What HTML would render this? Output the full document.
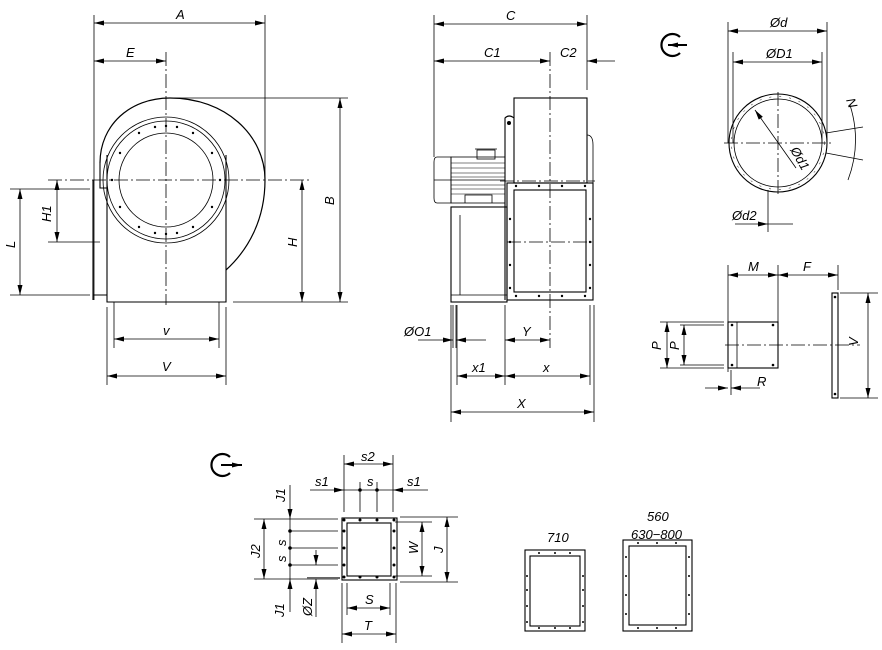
<!DOCTYPE html>
<html><head><meta charset="utf-8"><style>html,body{margin:0;background:#fff}svg{display:block}text{font-family:"Liberation Sans",sans-serif;font-style:italic;font-size:13px;fill:#000}</style></head><body>
<svg width="882" height="650" viewBox="0 0 882 650" xmlns="http://www.w3.org/2000/svg">
<defs><marker id="a" viewBox="0 0 12 6" refX="12" refY="3" markerWidth="12" markerHeight="5" orient="auto-start-reverse" markerUnits="userSpaceOnUse"><path d="M0,0L12,3L0,6z"/></marker></defs>
<g stroke="#000" stroke-width="0.8" fill="none">
<!-- LEFT VIEW -->
<line x1="94" y1="15" x2="94" y2="300"/><line x1="265" y1="15" x2="265" y2="180"/>
<line x1="94" y1="23" x2="265" y2="23" marker-start="url(#a)" marker-end="url(#a)"/>
<line x1="94" y1="61" x2="166" y2="61" marker-start="url(#a)" marker-end="url(#a)"/>
<line x1="166" y1="52" x2="166" y2="305" stroke-dasharray="14,3,2,3"/>
<line x1="48" y1="180" x2="312" y2="180" stroke-dasharray="14,3,2,3"/>
<path d="M100,163 C100,125 130,98 170,98 C225,98 265,135 265,180 C265,220 248,250 226,270" stroke-width="1.2"/>
<line x1="166" y1="98" x2="348" y2="98"/>
<path d="M107,155 L107,302 L226,302 L226,155" stroke-width="1.1"/>
<circle cx="166" cy="180" r="63"/>
<circle cx="166" cy="180" r="59"/><circle cx="166" cy="180" r="47"/>
<path d="M100,163 L100,188 L107,188 M93,180 L93,300 M93,295 L107,295" stroke-width="1.1"/>
<line x1="57" y1="180" x2="57" y2="242" marker-start="url(#a)" marker-end="url(#a)"/>
<line x1="48" y1="242" x2="100" y2="242"/>
<line x1="10" y1="189" x2="90" y2="189"/><line x1="10" y1="295" x2="90" y2="295"/>
<line x1="20" y1="189" x2="20" y2="295" marker-start="url(#a)" marker-end="url(#a)"/>
<line x1="302" y1="180" x2="302" y2="302" marker-start="url(#a)" marker-end="url(#a)"/>
<line x1="233" y1="302" x2="348" y2="302"/>
<line x1="340" y1="98" x2="340" y2="302" marker-start="url(#a)" marker-end="url(#a)"/>
<line x1="114" y1="302" x2="114" y2="348"/><line x1="219" y1="302" x2="219" y2="348"/>
<line x1="114" y1="339" x2="219" y2="339" marker-start="url(#a)" marker-end="url(#a)"/>
<line x1="107" y1="307" x2="107" y2="385"/><line x1="226" y1="307" x2="226" y2="385"/>
<line x1="107" y1="376" x2="226" y2="376" marker-start="url(#a)" marker-end="url(#a)"/>
<!-- MIDDLE VIEW -->
<line x1="434" y1="15" x2="434" y2="157"/><line x1="587" y1="15" x2="587" y2="90"/>
<line x1="434" y1="24" x2="587" y2="24" marker-start="url(#a)" marker-end="url(#a)"/>
<line x1="434" y1="61" x2="550" y2="61" marker-start="url(#a)" marker-end="url(#a)"/>
<line x1="615" y1="61" x2="587" y2="61" marker-end="url(#a)"/>
<line x1="550" y1="52" x2="550" y2="348" stroke-dasharray="14,3,2,3"/>
<rect x="514" y="98" width="73" height="85" stroke-width="1.1"/>
<path d="M505,300 L505,118 Q509,114 514,118" stroke-width="1.1"/>
<path d="M587,135 Q593,135 593,145 L593,183"/>
<rect x="507" y="183" width="86" height="117" stroke-width="1.1"/>
<rect x="514" y="190" width="72" height="102" stroke-width="1.1"/>
<line x1="507" y1="242" x2="593" y2="242" stroke-dasharray="14,3,2,3"/>
<line x1="500" y1="181" x2="595" y2="181" stroke-dasharray="14,3,2,3"/>
<path d="M451,157 L437,157 Q434,157 434,162 L434,198 Q434,203 437,203 L451,203 Z"/>
<rect x="451" y="157" width="54" height="46"/>
<g stroke-width="0.6"><line x1="451" y1="163" x2="505" y2="163"/><line x1="451" y1="168" x2="505" y2="168"/><line x1="451" y1="173" x2="505" y2="173"/><line x1="451" y1="177" x2="505" y2="177"/><line x1="451" y1="185" x2="505" y2="185"/><line x1="451" y1="189" x2="505" y2="189"/><line x1="451" y1="194" x2="505" y2="194"/></g>
<line x1="434" y1="180" x2="505" y2="180"/>
<rect x="477" y="150" width="18" height="9"/><line x1="475" y1="149" x2="497" y2="149"/>
<path d="M465,203 L465,195 L492,195 L492,203"/>
<rect x="451" y="207" width="56" height="95" stroke-width="1.1"/>
<line x1="460" y1="215" x2="460" y2="295"/><line x1="451" y1="295" x2="507" y2="295"/>
<line x1="453" y1="305" x2="453" y2="348"/><line x1="456" y1="305" x2="456" y2="348"/>
<line x1="418" y1="340" x2="453" y2="340" marker-end="url(#a)"/><line x1="486" y1="340" x2="456" y2="340" marker-end="url(#a)"/>
<line x1="505" y1="305" x2="505" y2="385"/>
<line x1="505" y1="340" x2="550" y2="340" marker-start="url(#a)" marker-end="url(#a)"/>
<line x1="457" y1="305" x2="457" y2="385"/><line x1="590" y1="305" x2="590" y2="385"/>
<line x1="457" y1="376" x2="505" y2="376" marker-start="url(#a)" marker-end="url(#a)"/>
<line x1="505" y1="376" x2="590" y2="376" marker-start="url(#a)" marker-end="url(#a)"/>
<line x1="451" y1="305" x2="451" y2="422"/><line x1="594" y1="305" x2="594" y2="422"/>
<line x1="451" y1="412" x2="594" y2="412" marker-start="url(#a)" marker-end="url(#a)"/>
<!-- RIGHT TOP -->
<line x1="728" y1="22" x2="728" y2="143"/><line x1="827" y1="22" x2="827" y2="143"/>
<line x1="728" y1="31" x2="827" y2="31" marker-start="url(#a)" marker-end="url(#a)"/>
<line x1="733" y1="52" x2="733" y2="143"/><line x1="822" y1="52" x2="822" y2="143"/>
<line x1="733" y1="62" x2="822" y2="62" marker-start="url(#a)" marker-end="url(#a)"/>
<circle cx="778" cy="143" r="49" stroke-width="1.1"/><circle cx="778" cy="143" r="44"/>
<circle cx="778" cy="143" r="46.5" stroke-width="0.5" stroke-dasharray="2,8"/>
<line x1="724" y1="143" x2="832" y2="143" stroke-dasharray="14,3,2,3"/>
<line x1="778" y1="92" x2="778" y2="194" stroke-dasharray="14,3,2,3"/>
<line x1="755" y1="110" x2="796" y2="168" marker-start="url(#a)"/>
<line x1="768" y1="190" x2="768" y2="232"/>
<line x1="735" y1="224" x2="768" y2="224" marker-end="url(#a)"/><line x1="793" y1="224" x2="768" y2="224"/>
<line x1="826" y1="133" x2="863" y2="127"/><line x1="826" y1="153" x2="863" y2="160"/>
<path d="M850,105 Q862,143 848,180"/>
<!-- symbols -->
<path d="M680,37 A11,11 0 1 0 680,53" stroke-width="2.2"/><line x1="687" y1="45" x2="668" y2="45" stroke-width="2" marker-end="url(#a)"/>
<path d="M230,457 A11,11 0 1 0 230,473" stroke-width="2.2"/><line x1="221" y1="465" x2="242" y2="465" stroke-width="2" marker-end="url(#a)"/>
<!-- RIGHT BOTTOM -->
<line x1="728" y1="265" x2="728" y2="372"/><line x1="778" y1="265" x2="778" y2="322"/><line x1="838" y1="265" x2="838" y2="290"/>
<line x1="728" y1="275" x2="778" y2="275" marker-start="url(#a)" marker-end="url(#a)"/>
<line x1="778" y1="275" x2="838" y2="275" marker-start="url(#a)" marker-end="url(#a)"/>
<rect x="728" y="322" width="50" height="46" stroke-width="1.1"/><line x1="737" y1="322" x2="737" y2="368"/>
<line x1="725" y1="345" x2="860" y2="345" stroke-dasharray="14,3,2,3"/>
<rect x="832" y="293" width="6" height="105" stroke-width="1.1"/>
<line x1="840" y1="293" x2="878" y2="293"/><line x1="840" y1="398" x2="878" y2="398"/>
<line x1="868" y1="293" x2="868" y2="398" marker-start="url(#a)" marker-end="url(#a)"/>
<line x1="660" y1="322" x2="724" y2="322"/><line x1="660" y1="368" x2="724" y2="368"/>
<line x1="680" y1="325" x2="724" y2="325"/><line x1="680" y1="365" x2="724" y2="365"/>
<line x1="667" y1="322" x2="667" y2="368" marker-start="url(#a)" marker-end="url(#a)"/>
<line x1="684" y1="325" x2="684" y2="365" marker-start="url(#a)" marker-end="url(#a)"/>
<line x1="731" y1="370" x2="731" y2="395"/>
<line x1="705" y1="388" x2="728" y2="388" marker-end="url(#a)"/><line x1="760" y1="388" x2="731" y2="388" marker-end="url(#a)"/>
<!-- BOTTOM FLANGE -->
<rect x="342" y="518" width="55" height="62" stroke-width="1.1"/><rect x="347" y="523" width="44" height="53" stroke-width="1.1"/>
<line x1="344" y1="455" x2="344" y2="512"/><line x1="393" y1="455" x2="393" y2="512"/>
<line x1="344" y1="464" x2="393" y2="464" marker-start="url(#a)" marker-end="url(#a)"/>
<line x1="310" y1="490" x2="344" y2="490" marker-end="url(#a)"/><line x1="428" y1="490" x2="393" y2="490" marker-end="url(#a)"/>
<line x1="344" y1="490" x2="393" y2="490"/>
<line x1="360" y1="482" x2="360" y2="512"/><line x1="377" y1="482" x2="377" y2="512"/>
<line x1="254" y1="519" x2="338" y2="519"/><line x1="254" y1="579" x2="338" y2="579"/>
<line x1="290" y1="531" x2="338" y2="531"/><line x1="290" y1="548" x2="338" y2="548"/><line x1="290" y1="565" x2="338" y2="565"/>
<line x1="264" y1="519" x2="264" y2="579" marker-start="url(#a)" marker-end="url(#a)"/>
<line x1="290" y1="485" x2="290" y2="519" marker-end="url(#a)"/><line x1="290" y1="612" x2="290" y2="579" marker-end="url(#a)"/>
<line x1="290" y1="519" x2="290" y2="579"/>
<line x1="316" y1="550" x2="316" y2="565" marker-end="url(#a)"/><line x1="316" y1="617" x2="316" y2="579" marker-end="url(#a)"/>
<line x1="307" y1="578" x2="340" y2="578" stroke-width="2" stroke="#666"/>
<line x1="400" y1="517" x2="458" y2="517"/><line x1="400" y1="582" x2="458" y2="582"/>
<line x1="395" y1="522" x2="432" y2="522"/><line x1="395" y1="576" x2="432" y2="576"/>
<line x1="447" y1="517" x2="447" y2="582" marker-start="url(#a)" marker-end="url(#a)"/>
<line x1="422" y1="522" x2="422" y2="576" marker-start="url(#a)" marker-end="url(#a)"/>
<line x1="347" y1="583" x2="347" y2="615"/><line x1="390" y1="583" x2="390" y2="615"/>
<line x1="347" y1="608" x2="390" y2="608" marker-start="url(#a)" marker-end="url(#a)"/>
<line x1="342" y1="583" x2="342" y2="643"/><line x1="396" y1="583" x2="396" y2="643"/>
<line x1="342" y1="634" x2="396" y2="634" marker-start="url(#a)" marker-end="url(#a)"/>
<rect x="525" y="550" width="60" height="81" stroke-width="1.1"/><rect x="530" y="556" width="50" height="70" stroke-width="1.1"/>
<rect x="623" y="540" width="69" height="91" stroke-width="1.1"/><rect x="629" y="546" width="57" height="79" stroke-width="1.1"/>
</g>
<g fill="#000">
<circle cx="166" cy="126" r="1.2"/><circle cx="193" cy="133" r="1.2"/><circle cx="212" cy="153" r="1.2"/><circle cx="220" cy="180" r="1.2"/><circle cx="212" cy="207" r="1.2"/><circle cx="193" cy="227" r="1.2"/><circle cx="166" cy="234" r="1.2"/><circle cx="139" cy="227" r="1.2"/><circle cx="120" cy="207" r="1.2"/><circle cx="112" cy="180" r="1.2"/><circle cx="120" cy="153" r="1.2"/><circle cx="139" cy="133" r="1.2"/><circle cx="155" cy="127" r="1.2"/><circle cx="177" cy="127" r="1.2"/><circle cx="155" cy="233" r="1.2"/><circle cx="177" cy="233" r="1.2"/>
<circle cx="509" cy="123" r="2"/>
<circle cx="516" cy="186" r="1.2"/><circle cx="539" cy="186" r="1.2"/><circle cx="562" cy="186" r="1.2"/><circle cx="585" cy="186" r="1.2"/>
<circle cx="516" cy="296" r="1.2"/><circle cx="539" cy="296" r="1.2"/><circle cx="562" cy="296" r="1.2"/><circle cx="585" cy="296" r="1.2"/>
<circle cx="510" cy="219" r="1.2"/><circle cx="510" cy="242" r="1.2"/><circle cx="510" cy="265" r="1.2"/><circle cx="510" cy="288" r="1.2"/>
<circle cx="590" cy="219" r="1.2"/><circle cx="590" cy="242" r="1.2"/><circle cx="590" cy="265" r="1.2"/><circle cx="590" cy="288" r="1.2"/>
<circle cx="732" cy="325" r="1.3"/><circle cx="773" cy="325" r="1.3"/><circle cx="732" cy="365" r="1.3"/><circle cx="773" cy="365" r="1.3"/>
<circle cx="835" cy="297" r="1.3"/><circle cx="835" cy="394" r="1.3"/>
<circle cx="344" cy="520" r="1.5"/><circle cx="360" cy="520" r="1.5"/><circle cx="377" cy="520" r="1.5"/><circle cx="394" cy="520" r="1.5"/>
<circle cx="344" cy="577" r="1.5"/><circle cx="360" cy="577" r="1.5"/><circle cx="377" cy="577" r="1.5"/><circle cx="394" cy="577" r="1.5"/>
<circle cx="344" cy="531" r="1.5"/><circle cx="344" cy="548" r="1.5"/><circle cx="344" cy="565" r="1.5"/>
<circle cx="394" cy="531" r="1.5"/><circle cx="394" cy="548" r="1.5"/><circle cx="394" cy="565" r="1.5"/>
<circle cx="360" cy="490" r="1.8"/><circle cx="377" cy="490" r="1.8"/><circle cx="290" cy="531" r="1.8"/><circle cx="290" cy="548" r="1.8"/><circle cx="290" cy="565" r="1.8"/>
<circle cx="539" cy="553" r="1"/><circle cx="555" cy="553" r="1"/><circle cx="570" cy="553" r="1"/><circle cx="539" cy="628" r="1"/><circle cx="555" cy="628" r="1"/><circle cx="570" cy="628" r="1"/>
<circle cx="527" cy="576" r="1"/><circle cx="527" cy="590" r="1"/><circle cx="527" cy="606" r="1"/><circle cx="527" cy="622" r="1"/><circle cx="583" cy="576" r="1"/><circle cx="583" cy="590" r="1"/><circle cx="583" cy="606" r="1"/><circle cx="583" cy="622" r="1"/>
<circle cx="638" cy="543" r="1"/><circle cx="657" cy="543" r="1"/><circle cx="676" cy="543" r="1"/><circle cx="638" cy="628" r="1"/><circle cx="657" cy="628" r="1"/><circle cx="676" cy="628" r="1"/>
<circle cx="626" cy="557" r="1"/><circle cx="626" cy="576" r="1"/><circle cx="626" cy="595" r="1"/><circle cx="626" cy="614" r="1"/><circle cx="689" cy="557" r="1"/><circle cx="689" cy="576" r="1"/><circle cx="689" cy="595" r="1"/><circle cx="689" cy="614" r="1"/>
</g>
<text x="176" y="19">A</text><text x="126" y="57">E</text>
<text x="0" y="0" transform="translate(51,222) rotate(-90)">H1</text>
<text x="0" y="0" transform="translate(15,248) rotate(-90)">L</text>
<text x="0" y="0" transform="translate(297,247) rotate(-90)">H</text>
<text x="0" y="0" transform="translate(334,205) rotate(-90)">B</text>
<text x="163" y="335">v</text><text x="162" y="371">V</text>
<text x="506" y="20">C</text><text x="484" y="57">C1</text><text x="560" y="57">C2</text>
<text x="404" y="336">ØO1</text><text x="522" y="336">Y</text>
<text x="472" y="372">x1</text><text x="543" y="372">x</text><text x="517" y="408">X</text>
<text x="770" y="27">Ød</text><text x="766" y="58">ØD1</text>
<text x="0" y="0" transform="translate(790,150) rotate(60)">Ød1</text>
<text x="0" y="0" transform="translate(846,100) rotate(70)">N</text>
<text x="732" y="220">Ød2</text>
<text x="748" y="271">M</text><text x="803" y="271">F</text>
<text x="0" y="0" transform="translate(661,350) rotate(-90)">P</text>
<text x="0" y="0" transform="translate(679,350) rotate(-90)">P</text>
<text x="0" y="0" transform="translate(858,346) rotate(-90)">V</text>
<text x="757" y="386">R</text>
<text x="361" y="461">s2</text><text x="315" y="486">s1</text><text x="367" y="486">s</text><text x="407" y="486">s1</text>
<text x="0" y="0" transform="translate(285,502) rotate(-90)">J1</text>
<text x="0" y="0" transform="translate(284,617) rotate(-90)">J1</text>
<text x="0" y="0" transform="translate(260,558) rotate(-90)">J2</text>
<text x="0" y="0" transform="translate(286,546) rotate(-90)">s</text>
<text x="0" y="0" transform="translate(286,562) rotate(-90)">s</text>
<text x="0" y="0" transform="translate(312,616) rotate(-90)">ØZ</text>
<text x="0" y="0" transform="translate(418,554) rotate(-90)">W</text>
<text x="0" y="0" transform="translate(443,553) rotate(-90)">J</text>
<text x="365" y="604">S</text><text x="364" y="630">T</text>
<text x="547" y="542">710</text><text x="647" y="521">560</text><text x="631" y="539">630−800</text>
</svg>
</body></html>
